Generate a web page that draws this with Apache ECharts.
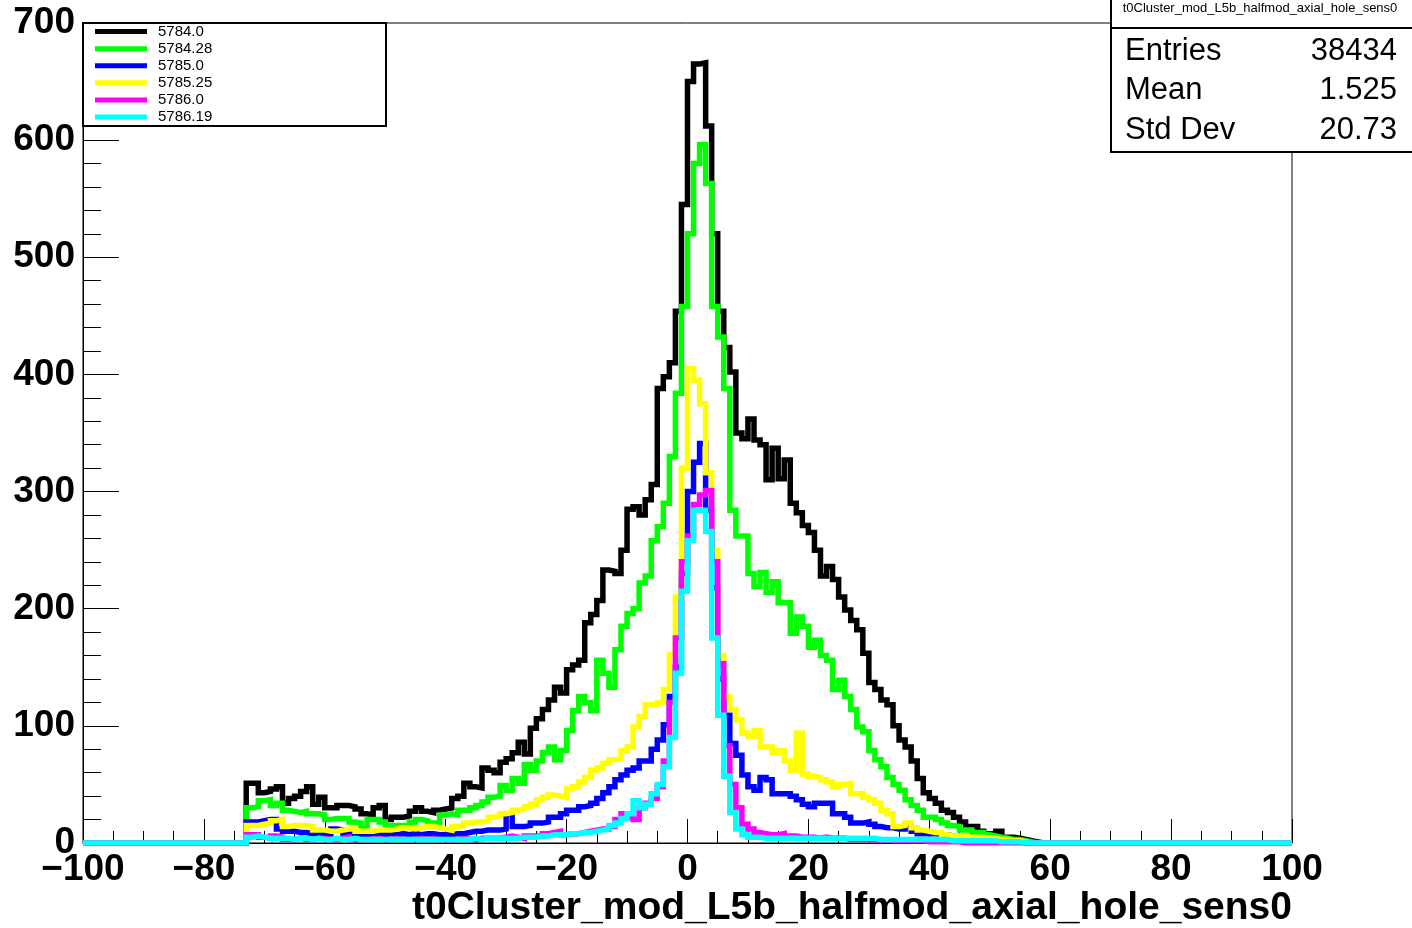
<!DOCTYPE html>
<html><head><meta charset="utf-8">
<script src="https://cdn.jsdelivr.net/npm/echarts@6/dist/echarts.min.js"></script>
<style>html,body{margin:0;padding:0;background:#fff}#c{width:1412px;height:928px}</style>
</head><body><div id="c"></div>
<script>
// ---- data ----
const X_MIN = -100, X_MAX = 100, BIN_WIDTH = 1;
const FIRST_BIN = -73; // lower edge of first listed bin
const seriesNames = ['5784.0', '5784.28', '5785.0', '5785.25', '5786.0', '5786.19'];
const seriesColors = ['#000000', '#00ff00', '#0000ff', '#ffff00', '#ff00ff', '#00ffff'];
const xTickLabels = [-100, -80, -60, -40, -20, 0, 20, 40, 60, 80, 100];
const yTickLabels = [0, 100, 200, 300, 400, 500, 600, 700];

const run5784_0 = [
  51, 51, 43, 44, 46, 48, 34, 38, 40, 44,
  48, 33, 39, 30, 30, 32, 32, 31, 29, 25,
  24, 30, 32, 20, 22, 22, 23, 27, 30, 27,
  26, 28, 29, 30, 38, 40, 51, 48, 47, 64,
  62, 60, 69, 72, 77, 86, 76, 98, 106, 114,
  122, 133, 128, 148, 152, 156, 188, 195, 207, 233,
  232, 230, 250, 285, 287, 280, 293, 306, 388, 398,
  410, 454, 545, 650, 665, 666, 612, 520, 454, 423,
  402, 350, 345, 362, 344, 340, 310, 337, 311, 327,
  290, 282, 271, 265, 250, 228, 236, 225, 210, 199,
  190, 182, 162, 137, 131, 122, 118, 100, 88, 82,
  70, 55, 43, 38, 34, 28, 26, 22, 18, 14,
  14, 10, 8, 8, 10, 5, 5, 4, 3, 2, 1
];
const run5784_28 = [
  30, 31, 36, 37, 32, 34, 28, 27, 26, 27,
  25, 25, 24, 20, 21, 21, 21, 18, 17, 13,
  20, 20, 18, 15, 15, 15, 15, 18, 20, 19,
  17, 17, 24, 25, 24, 28, 28, 30, 32, 35,
  39, 40, 49, 45, 55, 51, 67, 62, 70, 77,
  82, 71, 79, 96, 113, 125, 120, 113, 156, 145,
  133, 165, 185, 196, 200, 222, 228, 258, 270, 290,
  330, 384, 458, 520, 580, 596, 563, 458, 432, 388,
  284, 262, 262, 230, 219, 231, 214, 223, 205, 205,
  179, 193, 185, 167, 173, 160, 156, 131, 139, 125,
  114, 99, 95, 79, 71, 65, 56, 50, 45, 37,
  32, 28, 22, 22, 20, 17, 15, 14, 11, 11,
  9, 9, 7, 6, 5, 4, 3, 3, 2, 1, 0
];
const run5785_0 = [
  18, 18, 19, 20, 20, 12, 10, 10, 9, 9,
  8, 8, 9, 7, 12, 11, 8, 8, 9, 7,
  8, 8, 7, 8, 7, 8, 7, 8, 7, 8,
  8, 7, 7, 7, 8, 8, 9, 10, 10, 11,
  11, 11, 12, 25, 14, 14, 15, 17, 17, 18,
  22, 22, 25, 28, 28, 31, 32, 34, 38, 43,
  48, 54, 58, 62, 64, 70, 70, 80, 88, 101,
  125, 150, 230, 300, 325, 341, 284, 218, 140, 109,
  85, 75, 58, 48, 45, 56, 54, 42, 42, 42,
  40, 37, 33, 31, 34, 34, 34, 25, 25, 22,
  17, 17, 18, 16, 14, 13, 13, 12, 12, 15,
  10, 8, 8, 8, 7, 7, 6, 5, 5, 5,
  4, 4, 3, 3, 2, 2, 1, 1, 0, 0, 0
];
const run5785_25 = [
  15, 15, 16, 17, 19, 20, 14, 15, 15, 15,
  14, 11, 11, 10, 10, 11, 12, 12, 10, 10,
  10, 11, 11, 11, 12, 13, 13, 12, 13, 14,
  14, 13, 12, 11, 14, 15, 17, 18, 18, 19,
  22, 23, 25, 26, 28, 29, 31, 33, 37, 39,
  41, 40, 39, 46, 48, 52, 56, 62, 64, 68,
  71, 72, 79, 82, 99, 108, 118, 118, 120, 131,
  161, 210, 320, 405, 395, 375, 316, 250, 160, 125,
  114, 105, 94, 91, 96, 82, 82, 77, 79, 70,
  62, 94, 59, 57, 56, 54, 52, 48, 50, 51,
  42, 42, 39, 37, 34, 28, 25, 14, 15, 17,
  13, 11, 10, 9, 9, 7, 6, 6, 6, 5,
  5, 5, 4, 4, 3, 3, 2, 2, 1, 0, 0
];
const run5786_0 = [
  7, 7, 5, 4, 6, 5, 3, 3, 4, 3,
  3, 4, 4, 3, 3, 4, 5, 3, 3, 3,
  3, 4, 3, 3, 4, 3, 3, 3, 4, 3,
  4, 3, 3, 3, 3, 4, 3, 3, 4, 4,
  4, 4, 5, 6, 5, 4, 6, 6, 6, 8,
  9, 10, 7, 8, 8, 9, 10, 11, 12, 12,
  14, 20, 25, 22, 20, 30, 34, 38, 48, 70,
  120, 175, 240, 262, 289, 297, 301, 240, 153, 83,
  50, 30, 16, 12, 9, 8, 7, 7, 8, 6,
  6, 5, 5, 5, 4, 5, 4, 4, 4, 3,
  3, 3, 3, 3, 2, 3, 2, 2, 2, 2,
  2, 2, 1, 1, 1, 1, 1, 1, 0, 0,
  0, 0, 0, 0, 0, 0, 0, 0, 0, 0, 0
];
const run5786_19 = [
  5, 6, 5, 4, 4, 4, 4, 3, 4, 4,
  3, 4, 3, 3, 4, 3, 3, 4, 3, 3,
  3, 3, 3, 3, 3, 3, 3, 3, 3, 3,
  3, 3, 3, 3, 3, 3, 3, 4, 3, 4,
  4, 4, 4, 4, 4, 5, 5, 5, 6, 6,
  7, 7, 7, 8, 8, 9, 9, 10, 11, 12,
  15, 17, 21, 25, 36, 30, 33, 42, 50, 65,
  90, 145, 215, 258, 284, 284, 266, 175, 109, 57,
  26, 12, 7, 5, 5, 4, 4, 4, 4, 4,
  4, 4, 4, 4, 4, 4, 4, 4, 4, 4,
  4, 4, 4, 4, 3, 3, 3, 3, 3, 3,
  3, 3, 3, 3, 3, 3, 2, 2, 2, 2,
  2, 2, 2, 2, 1, 1, 1, 1, 0, 0, 0
];
const seriesValues = [run5784_0, run5784_28, run5785_0, run5785_25, run5786_0, run5786_19];

const histTitle = 't0Cluster_mod_L5b_halfmod_axial_hole_sens0';
const statsLabels = ['Entries', 'Mean', 'Std Dev'];
const statsValues = ['38434', '1.525', '20.73'];
const xAxisTitle = 't0Cluster_mod_L5b_halfmod_axial_hole_sens0';

// ---- build ----
const FONT = '"Liberation Sans", Arial, Helvetica, sans-serif';
function toSteps(vals) {
  const pts = [];
  for (let e = X_MIN; e < X_MAX; e += BIN_WIDTH) {
    const i = Math.round((e - FIRST_BIN) / BIN_WIDTH);
    const v = (i >= 0 && i < vals.length) ? vals[i] : 0;
    pts.push([e, v]);
  }
  pts.push([X_MAX, pts[pts.length - 1][1]]);
  return pts;
}

const chart = echarts.init(document.getElementById('c'), null, { renderer: 'canvas' });

const series = seriesNames.map((name, k) => ({
  name: name,
  type: 'line',
  step: 'end',
  data: toSteps(seriesValues[k]),
  showSymbol: false,
  symbol: 'none',
  clip: true,
  z: 2 + k * 0.01,
  lineStyle: { width: 5.5, color: seriesColors[k], cap: 'butt', join: 'miter' },
  itemStyle: { color: seriesColors[k] },
  emphasis: { disabled: true },
  animation: false
}));

const statsGraphics = [];
const rowY = [51, 90, 130];
statsLabels.forEach((lab, i) => {
  statsGraphics.push({ type: 'text', x: 1125, y: rowY[i], z: 30,
    style: { text: lab, fontFamily: FONT, fontSize: 31, fill: '#000', align: 'left', verticalAlign: 'middle' } });
  statsGraphics.push({ type: 'text', x: 1397, y: rowY[i], z: 30,
    style: { text: statsValues[i], fontFamily: FONT, fontSize: 31, fill: '#000', align: 'right', verticalAlign: 'middle' } });
});

const option = {
  animation: false,
  backgroundColor: '#ffffff',
  color: seriesColors,
  grid: { left: 83, right: 120, top: 23, bottom: 85, show: true, borderColor: '#000', borderWidth: 1, backgroundColor: 'transparent' },
  xAxis: {
    type: 'value', min: X_MIN, max: X_MAX, interval: 20,
    axisLine: { show: true, onZero: false, lineStyle: { color: '#000', width: 1 } },
    axisTick: { show: true, inside: true, length: 24, lineStyle: { color: '#000', width: 1 } },
    minorTick: { show: true, splitNumber: 4, length: 12, lineStyle: { color: '#000', width: 1 } },
    splitLine: { show: false },
    axisLabel: {
      margin: 8, color: '#000', fontFamily: FONT, fontWeight: 'bold', fontSize: 37,
      customValues: xTickLabels,
      formatter: v => String(v).replace('-', '\u2212')
    }
  },
  yAxis: {
    type: 'value', min: 0, max: 700, interval: 100,
    axisLine: { show: true, onZero: false, lineStyle: { color: '#000', width: 1 } },
    axisTick: { show: true, inside: true, length: 36, lineStyle: { color: '#000', width: 1 } },
    minorTick: { show: true, splitNumber: 5, length: 18, lineStyle: { color: '#000', width: 1 } },
    splitLine: { show: false },
    axisLabel: { margin: 8, color: '#000', fontFamily: FONT, fontWeight: 'bold', fontSize: 37,
      customValues: yTickLabels }
  },
  legend: {
    show: true, orient: 'vertical', left: 95, top: 23, z: 30, padding: 0,
    itemWidth: 52, itemHeight: 5, itemGap: 0, icon: 'rect', selectedMode: false,
    data: seriesNames,
    textStyle: { fontFamily: FONT, fontSize: 15, color: '#000', lineHeight: 17.1, padding: [0, 0, 0, 6] }
  },
  graphic: [
    { type: 'rect', z: 25, shape: { x: 83, y: 23, width: 303, height: 103 },
      style: { fill: '#fff', stroke: '#000', lineWidth: 2 } },
    { type: 'rect', z: 25, shape: { x: 1111, y: -2, width: 304, height: 154 },
      style: { fill: '#fff', stroke: '#000', lineWidth: 2 } },
    { type: 'line', z: 26, shape: { x1: 1111, y1: 28, x2: 1412, y2: 28 },
      style: { stroke: '#000', lineWidth: 2 } },
    { type: 'text', x: 1260, y: 8, z: 30,
      style: { text: histTitle, fontFamily: FONT, fontSize: 13, fill: '#000', align: 'center', verticalAlign: 'middle' } },
    ...statsGraphics,
    { type: 'text', x: 1292, y: 908, z: 30,
      style: { text: xAxisTitle, fontFamily: FONT, fontWeight: 'bold', fontSize: 39, fill: '#000', align: 'right', verticalAlign: 'middle' } }
  ],
  series: series
};
chart.setOption(option);
</script>
</body></html>
